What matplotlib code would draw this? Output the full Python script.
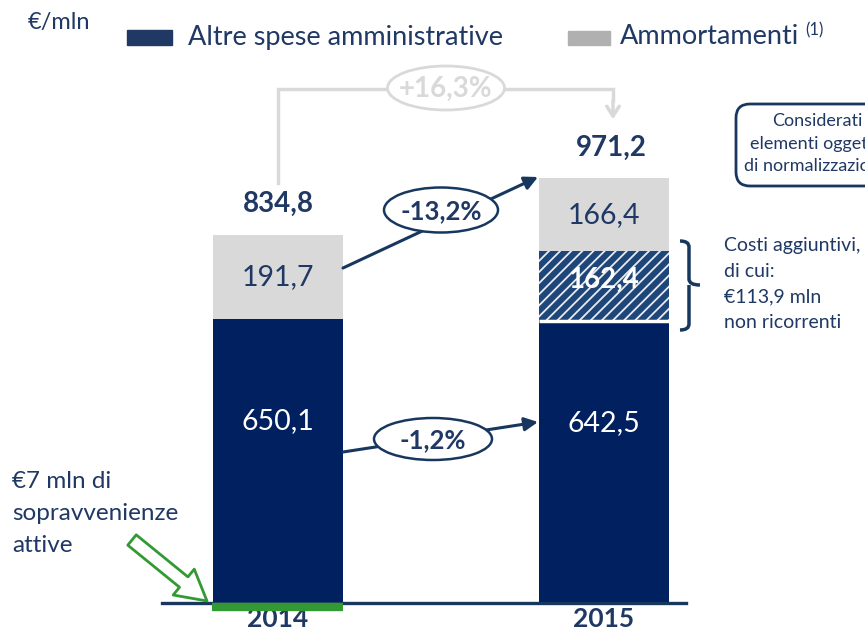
import numpy as np
import matplotlib
matplotlib.use('Agg')
import matplotlib.pyplot as plt
from matplotlib.patches import Rectangle, FancyBboxPatch, PathPatch, Ellipse
from matplotlib.path import Path

plt.rcParams['font.family'] = ['Lato', 'DejaVu Sans']
plt.rcParams['hatch.linewidth'] = 1.3

NAVY = '#002060'
TXT = '#1F3864'
LGREY = '#D9D9D9'
HATCHBLUE = '#1E4679'
GREEN = '#339933'

years = ['2014', '2015']
altre_spese = [650.1, 642.5]
costi_aggiuntivi = [0.0, 162.4]
ammortamenti = [191.7, 166.4]
totali = [834.8, 971.2]
var_totale = '+16,3%'
var_ammortamenti = '-13,2%'
var_altre = '-1,2%'


def fmt(v):
    return ('%.1f' % v).replace('.', ',')


fig = plt.figure(figsize=(8.65, 6.34), dpi=100)

# main axes with the bars (pixel box: x 162..686, baseline at y 603)
ax = fig.add_axes([162 / 865, 31 / 634, 524 / 865, 481 / 634])
x = np.arange(len(years))
w = 0.4
ax.bar(x, altre_spese, width=w, color=NAVY, zorder=2)
bott = np.array(altre_spese)
ax.bar(x, costi_aggiuntivi, width=w, bottom=bott, color=HATCHBLUE,
       edgecolor='#E8ECF2', hatch='///', linewidth=0, zorder=2)
bott = bott + np.array(costi_aggiuntivi)
ax.bar(x, ammortamenti, width=w, bottom=bott, color=LGREY, zorder=2)

ax.set_xlim(-0.356, 1.252)
ax.set_ylim(0, 1100)
for s in ['top', 'right', 'left']:
    ax.spines[s].set_visible(False)
ax.spines['bottom'].set_color('#17375E')
ax.spines['bottom'].set_linewidth(2.4)
ax.set_yticks([])
ax.set_xticks(x)
ax.set_xticklabels(years, fontsize=19, fontweight='bold', color=TXT)
ax.tick_params(axis='x', length=0, pad=3)
ax.patch.set_alpha(0)

# gap between dark block and hatched block of 2015
ax.plot([1 - w / 2, 1 + w / 2], [altre_spese[1] + 3, altre_spese[1] + 3],
        color='white', lw=2.5, zorder=3, solid_capstyle='butt')

# value labels
for i in range(len(years)):
    ax.text(x[i], altre_spese[i] * 0.64, fmt(altre_spese[i]), ha='center', va='center',
            color='white', fontsize=20.5, zorder=4)
    top = altre_spese[i] + costi_aggiuntivi[i]
    ax.text(x[i], top + ammortamenti[i] * 0.5, fmt(ammortamenti[i]), ha='center',
            va='center', color=TXT, fontsize=20.5, zorder=4)
    if costi_aggiuntivi[i] > 0:
        ax.text(x[i], altre_spese[i] + costi_aggiuntivi[i] * 0.6, fmt(costi_aggiuntivi[i]),
                ha='center', va='center', color='white', fontsize=20,
                fontweight='bold', zorder=4)
    stack_top = top + ammortamenti[i]
    ax.annotate(fmt(totali[i]), (x[i], stack_top), xytext=(5 * i, 22),
                textcoords='offset points', ha='center', va='center',
                fontsize=20, fontweight='bold', color=TXT)

# overlay in pixel coordinates for the annotations
ov = fig.add_axes([0, 0, 1, 1])
ov.set_xlim(0, 865)
ov.set_ylim(634, 0)
ov.axis('off')
ov.patch.set_alpha(0)

# unit and legend
ov.text(28, 23, '€/mln', fontsize=17, color=TXT, va='center')
ov.add_patch(Rectangle((127, 30), 45, 15, color=TXT))
ov.text(188, 37, 'Altre spese amministrative', fontsize=19.5, color=TXT, va='center')
ov.add_patch(Rectangle((568, 31), 42, 14, color='#B0B0B0'))
ov.text(620, 37, 'Ammortamenti', fontsize=19.5, color=TXT, va='center')
ov.text(805, 30, '(1)', fontsize=12, color=TXT, va='center')

# grey total change connector
ov.plot([278, 278, 613, 613], [183, 89, 89, 100], color=LGREY, lw=2.5,
        solid_joinstyle='miter')
ov.annotate('', xy=(613, 122), xytext=(613, 98),
            arrowprops=dict(arrowstyle='->,head_length=0.7,head_width=0.45',
                            color=LGREY, lw=2.5))
ov.add_patch(Ellipse((446, 88), 117, 44, fc='white', ec=LGREY, lw=2, zorder=5))
ov.text(446, 89, var_totale, ha='center', va='center', fontsize=20,
        fontweight='bold', color=LGREY, zorder=6)

# navy change arrows with ellipses
arrows = [((343, 268), (538, 177), (441, 210), 114, 45, var_ammortamenti),
          ((343, 452), (538, 422), (433, 439), 118, 42, var_altre)]
for start, end, mid, ew, eh, lab in arrows:
    ov.annotate('', xy=end, xytext=start,
                arrowprops=dict(arrowstyle='-|>,head_length=0.8,head_width=0.4',
                                color='#17375E', lw=2.2, shrinkA=0, shrinkB=0),
                zorder=4)
    ov.add_patch(Ellipse(mid, ew, eh, fc='white', ec='#17375E', lw=1.8, zorder=5))
    ov.text(mid[0], mid[1] + 1, lab, ha='center', va='center', fontsize=18.5,
            fontweight='bold', color=TXT, zorder=6)

# brace for the extra costs
bx, by0, by1, ym = 680, 241, 330, 285
verts = [(bx, by0), (bx + 9, by0), (bx + 9, by0 + 6), (bx + 9, ym - 6),
         (bx + 9, ym), (bx + 20, ym), (bx + 9, ym), (bx + 9, ym + 6),
         (bx + 9, by1 - 6), (bx + 9, by1), (bx, by1)]
codes = [Path.MOVETO, Path.CURVE3, Path.CURVE3, Path.LINETO, Path.CURVE3, Path.CURVE3,
         Path.MOVETO, Path.CURVE3, Path.LINETO, Path.CURVE3, Path.CURVE3]
ov.add_patch(PathPatch(Path(verts, codes), fc='none', ec='#17375E', lw=2.5))
brace_lines = ['Costi aggiuntivi,', 'di cui:', '€113,9 mln', 'non ricorrenti']
for k, line in enumerate(brace_lines):
    ov.text(724, 246 + 25.5 * k, line, fontsize=14, color=TXT, va='center')

# box on the right, cut by the edge of the slide
ov.add_patch(FancyBboxPatch((736, 104), 200, 82,
                            boxstyle='round,pad=0,rounding_size=14',
                            fc='white', ec='#17375E', lw=2))
box_lines = ['Considerati', 'elementi oggetto', 'di normalizzazione']
for k, line in enumerate(box_lines):
    ov.text(817, 121 + 22.5 * k, line, fontsize=13, color=TXT, ha='center', va='center')

# sopravvenienze note with hollow green arrow
for k, line in enumerate(['€7 mln di', 'sopravvenienze', 'attive']):
    ov.text(12, 481 + 32.5 * k, line, fontsize=17.5, color=TXT, va='center')
ov.annotate('', xy=(207, 601), xytext=(132, 540),
            arrowprops=dict(arrowstyle='simple,head_length=0.9,head_width=1.0,tail_width=0.4',
                            fc='white', ec=GREEN, lw=2, shrinkA=0, shrinkB=0,
                            mutation_scale=24))
ov.plot([212, 343], [607, 607], color=GREEN, lw=6, solid_capstyle='butt')

fig.savefig('out.png', dpi=100)
